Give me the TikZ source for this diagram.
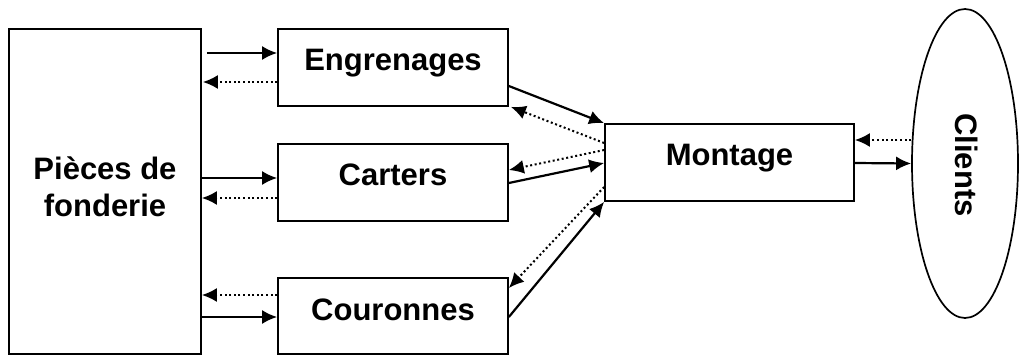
\documentclass[tikz,border=0pt]{standalone}
\usepackage{fontspec}
\setmainfont{Liberation Sans}
\usetikzlibrary{arrows.meta,shapes.geometric,calc}
\begin{document}
\begin{tikzpicture}[x=1pt,y=-1pt,
  box/.style={draw,line width=1.7pt,rectangle,inner sep=0pt},
  lbl/.style={font=\bfseries\fontsize{31}{37}\selectfont,inner sep=0pt},
  sol/.style={line width=2.2pt,-{Latex[length=15pt,width=14pt]}},
  dot/.style={line width=2pt,dash pattern=on 2pt off 2.6pt,-{Latex[length=15pt,width=14pt]}}]
\useasboundingbox (0,0) rectangle (1020,356);
% boxes
\node[box,minimum width=192pt,minimum height=325pt] (fond) at (105,191.5) {};
\node[box,minimum width=230pt,minimum height=77pt] (eng) at (393,67.5) {};
\node[box,minimum width=230pt,minimum height=77pt] (car) at (393,182.5) {};
\node[box,minimum width=230pt,minimum height=76pt] (cou) at (393,316) {};
\node[box,minimum width=249pt,minimum height=77pt] (mon) at (729.5,162.5) {};
\node[draw,line width=1.7pt,ellipse,minimum width=106pt,minimum height=309pt,inner sep=0pt] (cli) at (965,163.5) {};
% labels
\node[lbl,align=center,anchor=base] (fondt) at (105,216) {Pièces de\\fonderie};
\node[lbl,anchor=base] (engt) at (393,70) {Engrenages};
\node[lbl,anchor=base] (cart) at (393,185) {Carters};
\node[lbl,anchor=base] (cout) at (393,320) {Couronnes};
\node[lbl,anchor=base] (mont) at (729.5,165) {Montage};
\node[lbl,rotate=-90] (clit) at (967,165) {Clients};
% fonderie <-> parts
\draw[sol] ($(fond.east |- 0,53)+(5,0)$) -- (eng.west |- 0,53);
\draw[dot] (eng.west |- 0,82) -- ($(fond.east |- 0,82)+(1,0)$);
\draw[sol] (fond.east |- 0,178) -- (car.west |- 0,178);
\draw[dot] (car.west |- 0,198) -- (fond.east |- 0,198);
\draw[dot] (cou.west |- 0,295) -- (fond.east |- 0,295);
\draw[sol] (fond.east |- 0,317) -- (cou.west |- 0,317);
% parts <-> montage
\draw[sol] (eng.east |- 0,86) -- (mon.north west);
\draw[dot] (mon.west |- 0,143) -- ($(eng.south east)+(2,0)$);
\draw[dot] (mon.west |- 0,150) -- (car.east |- 0,170);
\draw[sol] (car.east |- 0,183) -- (mon.west |- 0,163);
\draw[dot] (mon.west |- 0,187) -- (cou.east |- 0,288);
\draw[sol] (cou.east |- 0,317) -- (mon.south west);
% montage <-> clients
\draw[dot] (cli.west |- 0,140) -- (mon.east |- 0,140);
\draw[sol] (mon.east |- 0,163) -- (cli.west);
\end{tikzpicture}
\end{document}
